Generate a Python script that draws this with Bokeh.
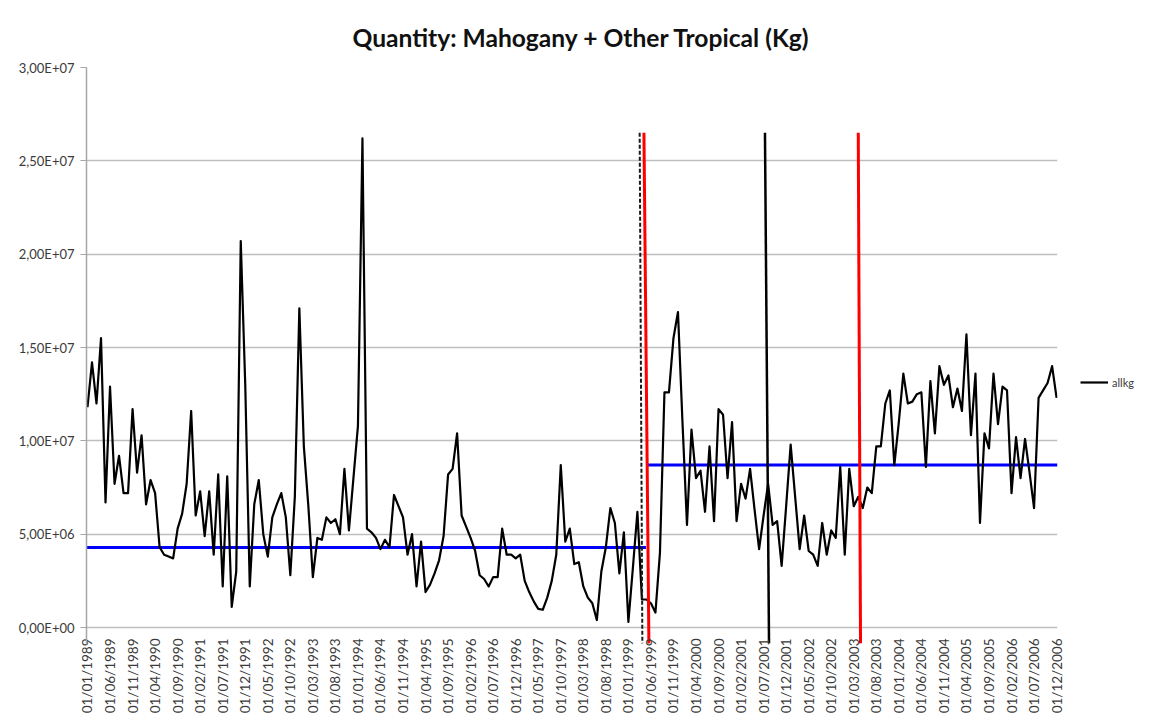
import math
from bokeh.plotting import figure
from bokeh.models import Range1d, FixedTicker, Legend, LegendItem, ColumnDataSource
from bokeh.embed import file_html
from bokeh.resources import INLINE

# ---------------- data (kg, monthly from 01/1989 to 12/2006) ----------------
allkg_millions = [
    11.8, 14.2, 12.0, 15.5, 6.7, 12.9, 7.7, 9.2, 7.2, 7.2, 11.7, 8.3,      # 1989
    10.3, 6.6, 7.9, 7.2, 4.3, 3.9, 3.8, 3.7, 5.3, 6.1, 7.7, 11.6,         # 1990
    6.0, 7.3, 4.9, 7.3, 3.9, 8.2, 2.2, 8.1, 1.1, 3.0, 20.7, 13.0,         # 1991
    2.2, 6.6, 7.9, 5.0, 3.8, 5.9, 6.6, 7.2, 5.9, 2.8, 7.0, 17.1,          # 1992
    9.7, 6.5, 2.7, 4.8, 4.7, 5.9, 5.6, 5.8, 5.0, 8.5, 5.2, 8.0,           # 1993
    10.8, 26.2, 5.3, 5.1, 4.8, 4.2, 4.7, 4.3, 7.1, 6.5, 5.9, 3.9,         # 1994
    5.0, 2.2, 4.6, 1.9, 2.3, 2.9, 3.6, 4.9, 8.2, 8.5, 10.4, 6.0,          # 1995
    5.4, 4.8, 4.1, 2.8, 2.6, 2.2, 2.7, 2.7, 5.3, 3.9, 3.9, 3.7,           # 1996
    3.9, 2.5, 1.9, 1.4, 1.0, 0.95, 1.6, 2.5, 3.9, 8.7, 4.6, 5.3,          # 1997
    3.4, 3.5, 2.2, 1.6, 1.3, 0.4, 3.0, 4.3, 6.4, 5.6, 2.9, 5.1,           # 1998
    0.3, 3.2, 6.2, 1.5, 1.5, 1.3, 0.8, 4.0, 12.6, 12.6, 15.5, 16.9,       # 1999
    11.0, 5.5, 10.6, 8.0, 8.4, 6.2, 9.7, 5.7, 11.7, 11.4, 8.0, 11.0,      # 2000
    5.7, 7.7, 6.9, 8.5, 6.3, 4.2, 6.0, 7.7, 5.5, 5.7, 3.3, 6.5,           # 2001
    9.8, 7.0, 4.2, 6.0, 4.1, 3.9, 3.3, 5.6, 3.9, 5.2, 4.8, 8.6,           # 2002
    3.9, 8.5, 6.5, 7.0, 6.4, 7.5, 7.2, 9.7, 9.7, 12.0, 12.7, 8.7,         # 2003
    11.0, 13.6, 12.0, 12.1, 12.5, 12.6, 8.6, 13.2, 10.4, 14.0, 13.0, 13.5, # 2004
    11.8, 12.8, 11.6, 15.7, 10.3, 13.6, 5.6, 10.4, 9.6, 13.6, 10.9, 12.9, # 2005
    12.7, 7.2, 10.2, 8.0, 10.1, 8.3, 6.4, 12.3, 12.7, 13.1, 14.0, 12.3,   # 2006
]
allkg = [v * 1e6 for v in allkg_millions]
months = list(range(len(allkg)))          # month index, 0 = 01/01/1989

# x tick labels: every fifth month
tick_months = list(range(0, 216, 5))
tick_labels = ["01/%02d/%d" % (m % 12 + 1, 1989 + m // 12) for m in tick_months]

# y tick labels
y_ticks = [0, 5000000, 10000000, 15000000, 20000000, 25000000, 30000000]
y_labels = ["0,00E+00", "5,00E+06", "1,00E+07", "1,50E+07", "2,00E+07", "2,50E+07", "3,00E+07"]

# period means (blue) : start month, end month, level
mean_start = [-0.22, 124.35]
mean_end = [123.9, 215.2]
mean_level = [4.29e6, 8.71e6]

# break markers (month index at top / bottom)
red_top_x = [123.45, 171.0]
red_bot_x = [124.55, 171.5]
black_top_x = [150.3]
black_bot_x = [151.2]
dash_top_x = [122.5]
dash_bot_x = [123.1]
marker_top = 26.5e6
marker_bot = -0.85e6

FONT = "Lato"
TXT = "#3a3a3a"

p = figure(frame_width=971, frame_height=577,
           x_range=Range1d(-0.22, 215.2), y_range=Range1d(-0.91e6, 3.0e7),
           output_backend="svg", toolbar_location=None,
           min_border_left=86, min_border_right=86, min_border_top=67, min_border_bottom=65,
           background_fill_color="white", border_fill_color="white")
p.outline_line_color = None

# title
p.title.text = "Quantity: Mahogany + Other Tropical (Kg)"
p.title.text_font = FONT
p.title.text_font_style = "bold"
p.title.text_font_size = "24.6px"
p.title.text_color = "#111111"
p.title.align = "left"
p.title.offset = 266
p.title.standoff = 31

# grid
p.xgrid.visible = False
p.ygrid.grid_line_color = "#bebebe"
p.ygrid.grid_line_width = 1.6

# y axis
p.yaxis.ticker = FixedTicker(ticks=y_ticks)
p.yaxis.major_label_overrides = dict(zip(y_ticks, y_labels))
p.yaxis.axis_line_color = "#a6a6a6"
p.yaxis.axis_line_width = 1.5
p.yaxis.major_tick_line_color = "#a6a6a6"
p.yaxis.major_tick_out = 6
p.yaxis.major_tick_in = 0
p.yaxis.minor_tick_line_color = None
p.yaxis.major_label_standoff = 6
p.yaxis.major_label_text_font = FONT
p.yaxis.major_label_text_font_size = "13px"
p.yaxis.major_label_text_color = TXT

# x axis
p.xaxis.ticker = FixedTicker(ticks=tick_months)
p.xaxis.major_label_overrides = dict(zip(tick_months, tick_labels))
p.xaxis.major_label_orientation = math.pi / 2
p.xaxis.axis_line_color = None
p.xaxis.major_tick_line_color = None
p.xaxis.major_tick_out = 0
p.xaxis.major_tick_in = 0
p.xaxis.minor_tick_line_color = None
p.xaxis.major_label_standoff = -6
p.xaxis.major_label_text_font = FONT
p.xaxis.major_label_text_font_size = "13.5px"
p.xaxis.major_label_text_color = TXT

# period mean lines
p.segment(x0=mean_start, x1=mean_end, y0=mean_level, y1=mean_level,
          line_color="#0000ff", line_width=3)

# data line
src = ColumnDataSource(dict(month=months, allkg=allkg))
line = p.line("month", "allkg", source=src, line_color="black", line_width=2.2, line_join="round")

# markers
p.segment(x0=dash_top_x, x1=dash_bot_x, y0=[marker_top], y1=[marker_bot],
          line_color="#1a1a1a", line_width=2, line_dash="4 2")
p.segment(x0=red_top_x, x1=red_bot_x, y0=[marker_top] * 2, y1=[marker_bot] * 2,
          line_color="#ff0000", line_width=3)
p.segment(x0=black_top_x, x1=black_bot_x, y0=[marker_top], y1=[marker_bot],
          line_color="black", line_width=2.5)

legend = Legend(items=[LegendItem(label="allkg", renderers=[line])],
                location=(23, 252), padding=0, margin=0, spacing=0,
                glyph_width=28, glyph_height=20, label_standoff=4,
                label_text_font=FONT, label_text_font_size="11px",
                label_text_color=TXT, border_line_color=None,
                background_fill_alpha=0)
p.add_layout(legend, "right")

open("out.html", "w").write(file_html(p, INLINE))
